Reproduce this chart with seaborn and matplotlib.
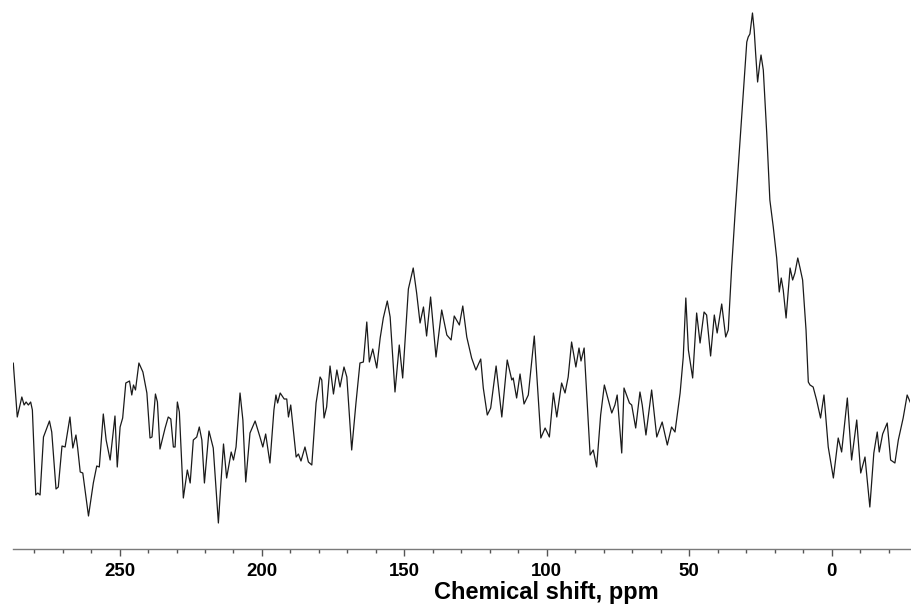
import numpy as np
import pandas as pd
import matplotlib
matplotlib.use("Agg")
import matplotlib.pyplot as plt
import seaborn as sns

# Spectrum (chemical shift in ppm, intensity in arbitrary units)
shift_ppm = [
    287.3, 285.9, 284.3, 283.5, 282.8, 282.0, 281.2, 280.6, 279.4, 278.7, 277.9, 276.7,
    275.5, 274.6, 273.8, 272.3, 271.5, 270.2, 269.1, 267.4, 266.4, 265.3, 264.7, 263.8,
    262.9, 260.9, 259.2, 258.0, 257.1, 255.7, 254.7, 253.3, 251.6, 250.8, 249.8, 248.9,
    247.8, 246.5, 245.7, 245.1, 244.4, 243.2, 241.8, 240.4, 239.3, 238.6, 237.4, 236.7,
    235.8, 234.0, 232.9, 232.0, 231.1, 230.5, 229.7, 229.0, 227.6, 226.2, 225.2, 224.1,
    222.9, 222.0, 221.1, 220.2, 218.6, 217.1, 215.3, 214.5, 213.5, 212.4, 210.8, 210.0,
    209.1, 207.7, 206.7, 205.7, 204.2, 202.4, 200.7, 199.7, 198.7, 197.2, 195.8, 195.1,
    194.5, 193.6, 192.2, 191.3, 190.7, 189.9, 189.0, 188.0, 187.2, 186.3, 184.9, 183.7,
    182.5, 181.0, 179.6, 179.0, 178.2, 177.3, 176.1, 174.9, 173.7, 172.6, 171.2, 170.2,
    168.5, 167.0, 165.6, 164.4, 163.2, 162.3, 161.1, 159.7, 158.5, 157.4, 156.0, 155.0,
    153.3, 151.8, 150.6, 148.6, 146.9, 145.7, 144.5, 143.3, 142.2, 140.8, 138.9, 136.9,
    135.1, 133.6, 132.5, 130.7, 129.5, 128.1, 126.4, 124.9, 123.2, 122.3, 120.9, 119.7,
    117.8, 115.8, 113.9, 112.3, 111.8, 110.6, 109.4, 108.0, 106.5, 104.4, 102.1, 100.6,
    99.1, 97.7, 96.5, 94.8, 93.6, 92.5, 91.3, 89.8, 88.7, 88.0, 86.9, 84.8,
    83.7, 82.5, 81.1, 79.8, 78.4, 77.2, 76.1, 75.3, 73.7, 72.9, 71.0, 70.2,
    68.8, 67.3, 66.5, 65.2, 63.2, 61.4, 59.5, 57.7, 56.2, 55.0, 53.2, 52.1,
    51.2, 50.3, 48.8, 47.4, 46.2, 44.8, 43.9, 42.5, 41.2, 40.2, 38.6, 37.2,
    36.3, 35.1, 33.9, 32.4, 31.2, 29.8, 29.3, 28.7, 27.8, 27.2, 26.7, 26.0,
    25.3, 24.8, 24.0, 22.8, 21.7, 20.5, 19.3, 18.4, 17.7, 17.0, 16.0, 14.6,
    13.7, 12.9, 11.9, 11.1, 10.2, 9.0, 8.2, 7.6, 6.5, 5.3, 3.9, 2.7,
    1.2, -0.6, -2.3, -3.5, -5.5, -7.0, -8.8, -10.2, -11.7, -13.4, -14.8, -16.0,
    -16.7, -17.9, -19.5, -20.7, -22.2, -23.4, -25.1, -26.5, -27.7,
]
intensity = [
    167, 113, 133, 125, 128, 125, 128, 120, 35, 37, 35, 93,
    102, 109, 98, 41, 43, 84, 83, 113, 82, 95, 82, 58,
    57, 14, 47, 64, 63, 116, 90, 70, 114, 63, 103, 112,
    147, 149, 135, 145, 140, 167, 158, 137, 92, 93, 136, 128,
    81, 102, 113, 111, 83, 83, 128, 118, 32, 60, 47, 90,
    93, 103, 90, 47, 99, 82, 7, 43, 86, 52, 78, 70,
    83, 137, 110, 48, 97, 109, 93, 83, 96, 67, 120, 135,
    127, 137, 131, 131, 113, 125, 100, 73, 76, 69, 83, 68,
    65, 127, 153, 150, 112, 123, 164, 136, 160, 143, 163, 153,
    80, 127, 167, 168, 208, 168, 181, 162, 192, 212, 229, 213,
    138, 185, 152, 241, 262, 237, 207, 223, 194, 233, 173, 220,
    195, 190, 214, 205, 224, 193, 172, 160, 171, 142, 115, 122,
    164, 113, 170, 150, 152, 132, 156, 126, 135, 194, 92, 102,
    93, 137, 113, 147, 137, 153, 188, 163, 182, 169, 182, 75,
    80, 63, 115, 145, 130, 117, 125, 135, 77, 142, 127, 125,
    102, 138, 125, 95, 140, 93, 108, 85, 103, 98, 137, 173,
    232, 180, 152, 217, 187, 218, 215, 174, 215, 197, 226, 193,
    200, 263, 317, 380, 430, 488, 493, 496, 517, 500, 477, 448,
    465, 475, 460, 397, 330, 303, 272, 238, 252, 240, 212, 262,
    250, 257, 272, 262, 250, 200, 148, 145, 143, 130, 112, 135,
    83, 52, 92, 78, 132, 70, 110, 57, 73, 23, 77, 98,
    78, 96, 107, 70, 67, 90, 112, 135, 127,
]

major_ticks = [250, 200, 150, 100, 50, 0]
minor_ticks = [280, 270, 260, 240, 230, 220, 210, 190, 180, 170, 160, 140, 130, 120,
               110, 90, 80, 70, 60, 40, 30, 20, 10, -10, -20]

df = pd.DataFrame({"shift": shift_ppm, "intensity": intensity})

sns.set_style("white")
plt.rcParams["font.family"] = ["Liberation Sans", "DejaVu Sans"]

fig = plt.figure(figsize=(9.12, 6.10), dpi=100)
ax = fig.add_axes([13 / 912, 61 / 610, 897 / 912, 549 / 610])

sns.lineplot(data=df, x="shift", y="intensity", sort=False, estimator=None,
             color="#1a1a1a", linewidth=0.9, ax=ax)

ax.set_xlim(287.4, -27.5)
ax.set_ylim(-19, 530)
ax.set_yticks([])
ax.set_ylabel("")

sns.despine(ax=ax, left=True, top=True, right=True)
ax.spines["bottom"].set_color("#7a7a7a")
ax.spines["bottom"].set_linewidth(1.0)

ax.set_xticks(major_ticks)
ax.set_xticklabels([str(t) for t in major_ticks], fontsize=13.4, fontweight="bold")
ax.set_xticks(minor_ticks, minor=True)
ax.tick_params(axis="x", which="major", direction="out", length=5, width=1,
               color="#555555", pad=5, bottom=True, labelcolor="black")
ax.tick_params(axis="x", which="minor", direction="out", length=3, width=1,
               color="#555555", bottom=True)

ax.set_xlabel("Chemical shift, ppm", fontsize=17, fontweight="bold", color="black")
ax.xaxis.set_label_coords(0.595, -0.058)

fig.savefig("out.png", dpi=100)
